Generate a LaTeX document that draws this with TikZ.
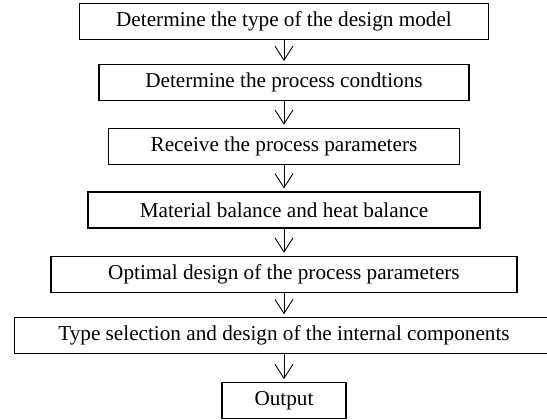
\documentclass[tikz,border=0pt]{standalone}
\usepackage{fontspec}
\setmainfont{Liberation Serif}
\usetikzlibrary{arrows.meta, positioning}

\begin{document}
\begin{tikzpicture}[
  box/.style={draw=black, line width=0.6pt, minimum height=0.63cm,
    inner sep=0pt, align=center, font=\fontsize{10.6}{13}\selectfont},
  arr/.style={-{Straight Barb[length=7pt, width=9pt]}, line width=0.45pt,
    shorten >=1.5pt}
]
  \useasboundingbox (0,0) rectangle (9.612,-7.363);
  \node[box, minimum width=7.20cm] (type) at (4.99,-0.38) {Determine the type of the design model};
  \node[box, minimum width=6.50cm] (cond) at (4.99,-1.45) {Determine the process condtions};
  \node[box, minimum width=6.17cm] (param) at (4.99,-2.57) {Receive the process parameters};
  \node[box, minimum width=6.89cm] (balance) at (4.99,-3.69) {Material balance and heat balance};
  \node[box, minimum width=8.19cm] (optim) at (4.99,-4.82) {Optimal design of the process parameters};
  \node[box, minimum width=9.47cm] (intern) at (4.99,-5.90) {Type selection and design of the internal components};
  \node[box, minimum width=2.18cm] (output) at (4.99,-7.04) {Output};

  \draw[arr] (type) -- (cond);
  \draw[arr] (cond) -- (param);
  \draw[arr] (param) -- (balance);
  \draw[arr] (balance) -- (optim);
  \draw[arr] (optim) -- (intern);
  \draw[arr] (intern) -- (output);
\end{tikzpicture}
\end{document}
